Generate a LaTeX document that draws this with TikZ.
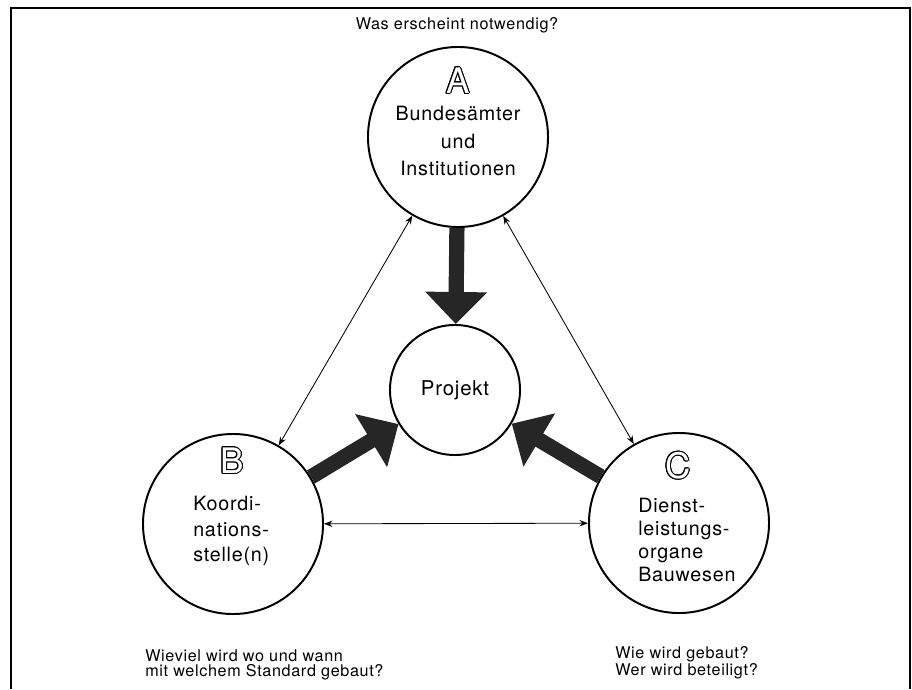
\documentclass[tikz,border=0pt]{standalone}
\usepackage{fontspec}
\setmainfont{TeX Gyre Heros}[LetterSpace=4]
\usepackage{contour}
\contourlength{0.6pt}
\usetikzlibrary{arrows.meta,positioning}

\newcommand{\hollow}[1]{\contour{black}{\textcolor{white}{#1}}}

\begin{document}
\begin{tikzpicture}[
  x=0.025cm, y=-0.025cm,
  partner/.style={circle,draw,line width=1.4pt,minimum size=4.5cm,inner sep=0pt},
  centre/.style={circle,draw,line width=1.4pt,minimum size=3.25cm,inner sep=0pt,font=\fontsize{14.5}{17}\selectfont},
  letter/.style={inner sep=0pt,font=\fontsize{25}{25}\selectfont},
  circletext/.style={align=left,inner sep=0pt,font=\fontsize{14}{16.5}\selectfont},
  question/.style={align=left,inner sep=0pt,font=\fontsize{11.5}{11}\selectfont},
  link/.style={{Stealth[length=6pt,width=4.5pt]}-{Stealth[length=6pt,width=4.5pt]},line width=0.6pt},
  push/.style={-{Triangle[width=1.5cm,length=0.8cm]},line width=0.38cm,black!85}
]
\useasboundingbox (0,0) rectangle (912,689);
\draw[line width=1.4pt] (11,689) -- (11,8) -- (910,8) -- (910,689);

\node [partner] (A) at (458,137) { } ;
\node [partner] (B) at (233,524) { } ;
\node [partner] (C) at (679,523) { } ;
\node [centre] (P) at (455,390) {Projekt} ;

\node [letter] (A letter) at (458,81) {\hollow{A}} ;
\node [letter] (B letter) at (232,461) {\hollow{B}} ;
\node [letter] (C letter) at (678,466) {\hollow{C}} ;

\node [circletext,align=center,font=\fontsize{14}{19.5}\selectfont] (A text) at (458,141) {Bundesämter\\und\\Institutionen} ;
\node [circletext,anchor=west,font=\fontsize{14}{18}\selectfont] (B text) at (193,531) {Koordi-\\nations-\\stelle(n)} ;
\node [circletext,anchor=west] (C text) at (638,540) {Dienst-\\leistungs-\\organe\\Bauwesen} ;

\node [question] (top question) at (457,25) {Was erscheint notwendig?} ;
\node [question,anchor=west] (B question) at (145,665) {Wieviel wird wo und wann\\mit welchem Standard gebaut?} ;
\node [question,anchor=west] (C question) at (615,663) {Wie wird gebaut?\\Wer wird beteiligt?} ;

\draw [link] (A) -- (B) ;
\draw [link] (A) -- (C) ;
\draw [link] (B) -- (C) ;

\draw [push] (A) -- (P) ;
\draw [push] (B) -- (P) ;
\draw [push] (C) -- (P) ;

\end{tikzpicture}
\end{document}
